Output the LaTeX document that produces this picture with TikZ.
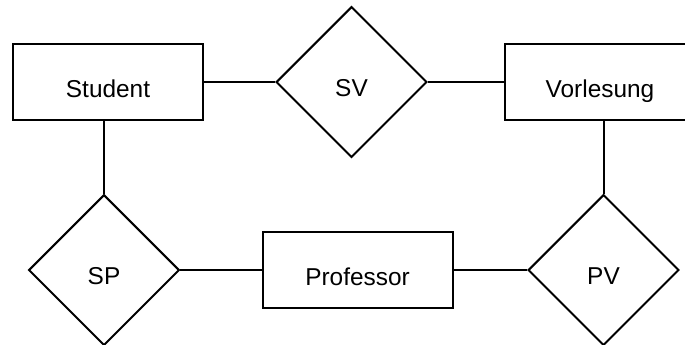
\documentclass[tikz,border=0pt]{standalone}
\usepackage{fontspec}
\setmainfont{Liberation Sans}
\usetikzlibrary{shapes.geometric, positioning}

\tikzset{
    entity/.style={draw, rectangle, line width=1.5pt, minimum width=142.5pt,
        minimum height=57.5pt, inner sep=0pt, text height=22.5pt, text depth=0pt},
    relation/.style={draw, diamond, aspect=1, line width=1.5pt, minimum width=113pt,
        minimum height=113pt, inner sep=0pt, text height=21pt, text depth=0pt},
}

\begin{document}
\begin{tikzpicture}[x=0.75pt, y=-0.75pt, line width=1.5pt,
        font=\fontsize{18.3}{22}\selectfont]
            \useasboundingbox (0,0) rectangle (685,344);

            \node[entity] (student) at (108, 82) {Student};
            \node[relation] (sv) at (351.5, 82) {SV};
            \node[entity] (vorlesung) at (600, 82) {Vorlesung};
            \node[relation] (sp) at (104, 270) {SP};
            \node[entity] (professor) at (357.5, 270) {Professor};
            \node[relation] (pv) at (603.5, 270) {PV};

            \path[draw]
            (student) edge (sv)
            (sv) edge (vorlesung)
            (sp.north |- student.south) edge (sp)
            (pv.north |- vorlesung.south) edge (pv)
            (sp) edge (professor)
            (professor) edge (pv)

            ;
        \end{tikzpicture}
\end{document}
